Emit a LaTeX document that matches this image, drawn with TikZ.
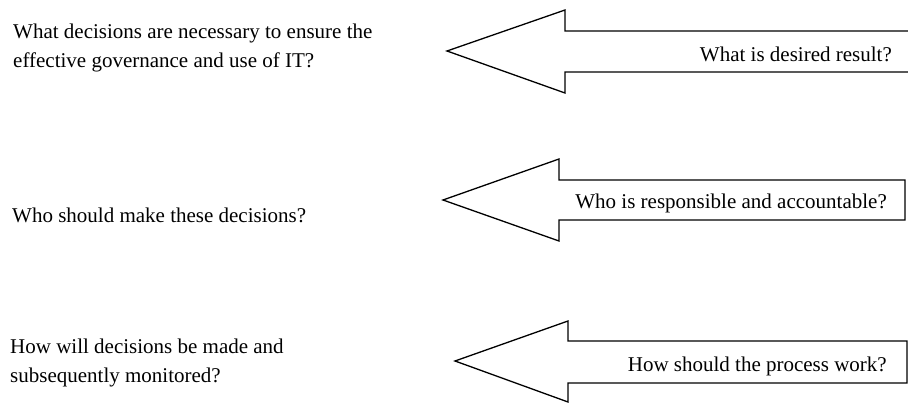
\documentclass[tikz,border=0pt]{standalone}
\usepackage{fontspec}
\setmainfont{Liberation Serif}
\usepackage{tikz}

\tikzset{
  arrowline/.style={draw=black,line width=1.3pt,fill=white,line join=miter},
  question/.style={anchor=base west,inner sep=0pt,align=left,font=\fontsize{21}{29}\selectfont},
  answer/.style={anchor=base east,inner sep=0pt,font=\fontsize{21}{29}\selectfont}
}

\begin{document}
\begin{tikzpicture}[x=1pt,y=-1pt]
        \useasboundingbox (0,0) rectangle (908,403);
        % arrows
        \draw[arrowline] (910,31) -- (565,31) -- (565,10) -- (447,51) -- (565,93) -- (565,72) -- (910,72);
        \draw[arrowline] (905,180) -- (559,180) -- (559,159) -- (443,200) -- (559,241) -- (559,220) -- (905,220) -- cycle;
        \draw[arrowline] (907,341) -- (568,341) -- (568,321) -- (455,361) -- (568,402) -- (568,383) -- (907,383) -- cycle;
        % questions
        \node[question] (q1) at (13,68) {What decisions are necessary to ensure the\\effective governance and use of IT?};
        \node[question] (q2) at (12,223) {Who should make these decisions?};
        \node[question] (q3) at (10,383) {How will decisions be made and\\subsequently monitored?};
        % answers
        \node[answer] (a1) at (892,62) {What is desired result?};
        \node[answer] (a2) at (887,209) {Who is responsible and accountable?};
        \node[answer] (a3) at (887,371) {How should the process work?};
    \end{tikzpicture}
\end{document}
